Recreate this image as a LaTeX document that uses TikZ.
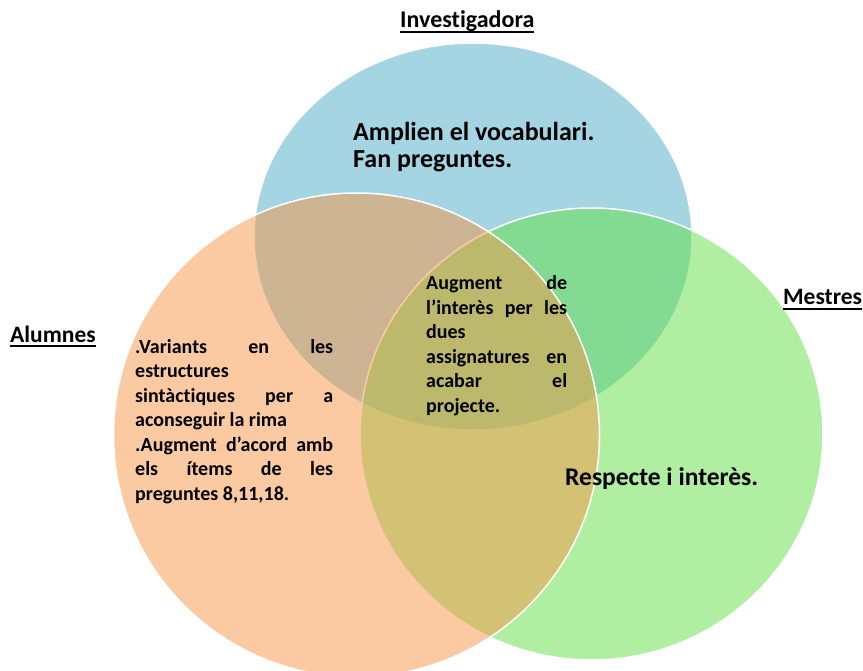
\documentclass[tikz,border=0pt]{standalone}
\usepackage{fontspec}
\setmainfont{Carlito}[Ligatures=NoCommon]
\definecolor{cblue}{HTML}{4BACC6}
\definecolor{corange}{HTML}{F79646}
\definecolor{cgreen}{RGB}{97,223,69}
\newcommand\ulx[1]{\setbox0=\hbox{#1}\rlap{\rule[-5pt]{\wd0}{1.9pt}}\box0}
\newcommand\jl[2]{\makebox[#1][s]{#2}}
\tikzset{
  venn/.style={fill opacity=0.5, draw=white, draw opacity=1, line width=1.5pt},
  title/.style={inner sep=0pt, anchor=base west, font=\fontsize{23.5}{28}\selectfont\bfseries},
  big/.style={inner sep=0pt, anchor=base west, align=left, font=\fontsize{25.5}{28}\selectfont\bfseries},
  small/.style={inner sep=0pt, anchor=base west, align=left, font=\fontsize{20}{24.5}\selectfont\bfseries}
}
\begin{document}
\begin{tikzpicture}[x=1pt,y=-1pt]
\useasboundingbox (0,0) rectangle (863,671);
\path[venn, fill=cblue] (473,236.5) ellipse [x radius=219pt, y radius=193.5pt];
\path[venn, fill=cgreen] (591.5,434) ellipse [x radius=231.5pt, y radius=226pt];
\path[venn, fill=corange] (356.5,435) ellipse [x radius=243pt, y radius=242pt];
\node[title, font=\fontsize{24}{28}\selectfont\bfseries] (inv) at (400,28) {\ulx{Investigadora}};
\node[title] (alu) at (10,342) {\ulx{Alumnes}};
\node[title] (mes) at (783,305) {\ulx{Mestres}};
\node[big, font=\fontsize{26}{27.7}\selectfont\bfseries] (amp) at (353,168) {Amplien el vocabulari.\\Fan preguntes.};
\node[big] (res) at (565,485) {Respecte i interès.};
\node[small] (alt) at (135,500) {\jl{198pt}{.Variants en les}\\estructures\\\jl{198pt}{sintàctiques per a}\\aconseguir la rima\\\jl{198pt}{.Augment d’acord amb}\\\jl{198pt}{els ítems de les}\\preguntes 8,11,18.};
\node[small] (mid) at (426,412) {\jl{141pt}{Augment de}\\\jl{141pt}{l’interès per les}\\dues\\\jl{141pt}{assignatures en}\\\jl{141pt}{acabar el}\\projecte.};
\end{tikzpicture}
\end{document}
